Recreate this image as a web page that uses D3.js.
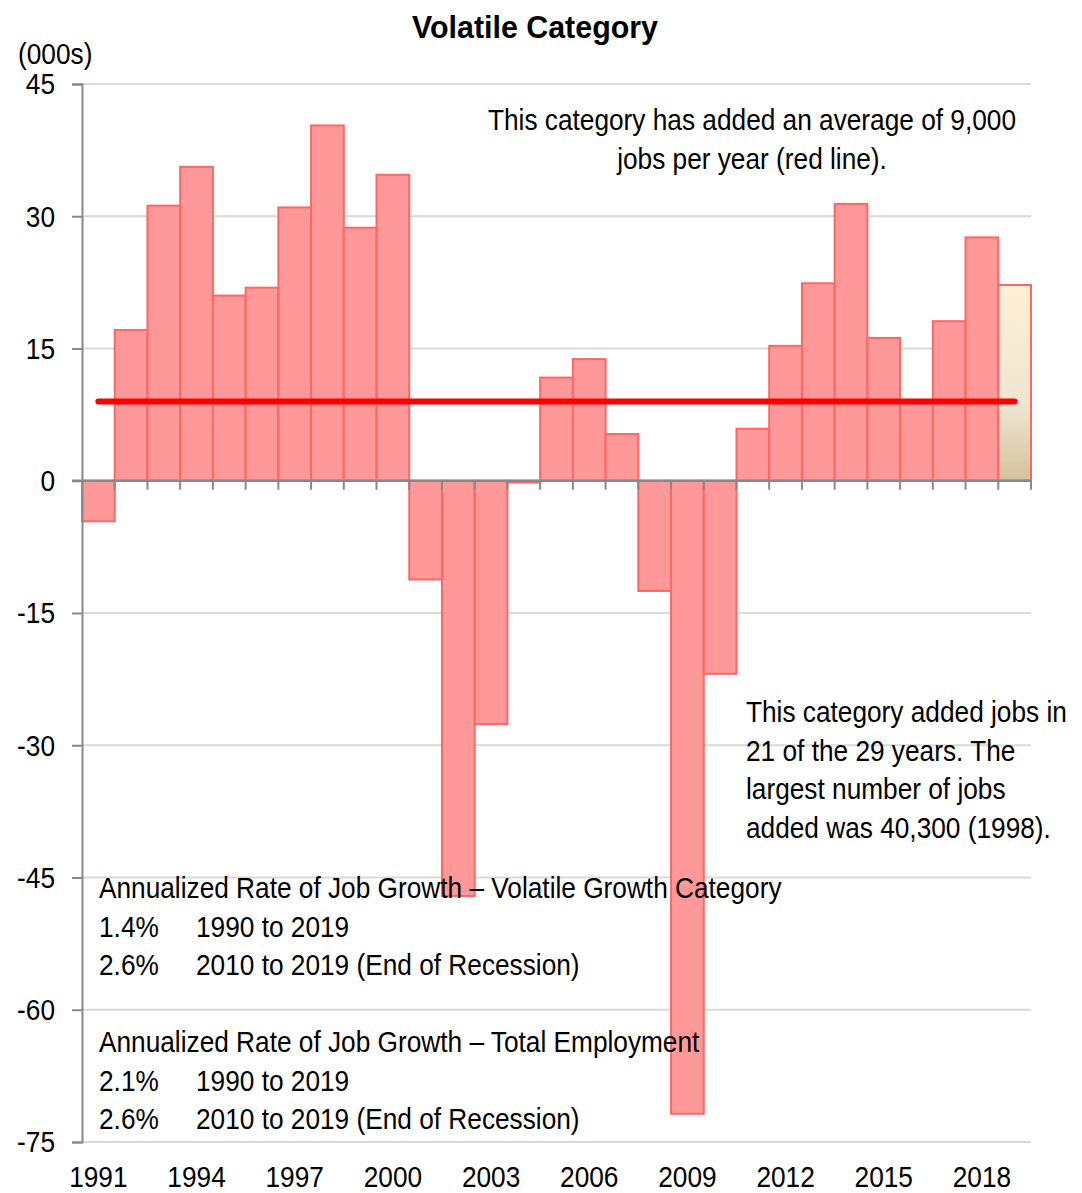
<!DOCTYPE html>
<html>
<head>
<meta charset="utf-8">
<script src="https://cdn.jsdelivr.net/npm/d3@7"></script>
<style>
  body { margin: 0; background: #fff; }
  svg { display: block; }
  text { font-family: 'Liberation Sans', Arial, sans-serif; fill: #000; }
</style>
</head>
<body>
<svg id="chart"></svg>
<script>
// job change by year, thousands
const years = d3.range(1991, 2020);
const jobChange = [
    -4.6, 17.1, 31.2, 35.6, 21.0, 21.9, 31.0, 40.3, 28.7, 34.7,
    -11.2, -47.1, -27.6, -0.2, 11.7, 13.8, 5.3, -12.5, -71.8, -21.9,
    5.9, 15.3, 22.4, 31.4, 16.2, 9.0, 18.1, 27.6, 22.2
];
const averageLine = 9.0;
const yTicks = [45, 30, 15, 0, -15, -30, -45, -60, -75];
const xLabels = [1991, 1994, 1997, 2000, 2003, 2006, 2009, 2012, 2015, 2018];

const topNote = ['This category has added an average of 9,000', 'jobs per year (red line).'];
const sideNote = ['This category added jobs in', '21 of the 29 years. The', 'largest number of jobs', 'added was 40,300 (1998).'];
const rateBlocks = [
    { title: 'Annualized Rate of Job Growth \u2013 Volatile Growth Category',
      rows: [['1.4%', '1990 to 2019'], ['2.6%', '2010 to 2019 (End of Recession)']] },
    { title: 'Annualized Rate of Job Growth \u2013 Total Employment',
      rows: [['2.1%', '1990 to 2019'], ['2.6%', '2010 to 2019 (End of Recession)']] }
];

const width = 1082, height = 1193;
const margin = { left: 82, right: 51, top: 84, bottom: 51 };
const narrow = 0.875;   // stand-in for the condensed face
const fontSize = 30;

const svg = d3.select('#chart')
    .attr('width', width)
    .attr('height', height);

// regular text squeezed horizontally
function label(parent, tx, ty, str, anchor) {
    return parent.append('text')
        .attr('transform', `translate(${tx},${ty}) scale(${narrow},1)`)
        .attr('text-anchor', anchor || 'start')
        .attr('font-size', fontSize)
        .text(str);
}

const x = d3.scaleBand()
    .domain(years)
    .range([margin.left, width - margin.right])
    .paddingInner(0)
    .paddingOuter(0);

const y = d3.scaleLinear()
    .domain([-75, 45])
    .range([height - margin.bottom, margin.top]);

const defs = svg.append('defs');
const grad = defs.append('linearGradient')
    .attr('id', 'lastBar')
    .attr('x1', 0).attr('y1', 0).attr('x2', 0).attr('y2', 1);
grad.append('stop').attr('offset', '0%').attr('stop-color', '#fdefd4');
grad.append('stop').attr('offset', '60%').attr('stop-color', '#efe6d2');
grad.append('stop').attr('offset', '100%').attr('stop-color', '#d3c29b');

// gridlines
svg.append('g')
    .selectAll('line')
    .data(yTicks.filter(d => d !== 0))
    .enter()
    .append('line')
    .attr('x1', margin.left)
    .attr('x2', width - margin.right)
    .attr('y1', d => y(d))
    .attr('y2', d => y(d))
    .attr('stroke', '#d9d9d9')
    .attr('stroke-width', 2);

// bars
svg.append('g')
    .selectAll('rect')
    .data(years.map((yr, i) => ({ year: yr, value: jobChange[i] })))
    .enter()
    .append('rect')
    .attr('x', d => x(d.year))
    .attr('width', x.bandwidth())
    .attr('y', d => y(Math.max(0, d.value)))
    .attr('height', d => Math.abs(y(d.value) - y(0)))
    .attr('fill', d => d.year === 2019 ? 'url(#lastBar)' : '#ff9999')
    .attr('stroke', '#ff6666')
    .attr('stroke-width', 2);

// y axis
const yAxis = svg.append('g')
    .attr('transform', `translate(${margin.left},0)`)
    .call(d3.axisLeft(y).tickValues(yTicks).tickSize(10).tickPadding(17).tickFormat(d => String(d)));
yAxis.select('.domain').attr('stroke', '#888').attr('stroke-width', 2);
yAxis.selectAll('.tick line').attr('stroke', '#888').attr('stroke-width', 2);
yAxis.selectAll('.tick text')
    .attr('font-size', fontSize)
    .attr('font-family', null)
    .attr('fill', '#000')
    .attr('x', -27 / narrow)
    .attr('dy', '0.33em')
    .attr('transform', `scale(${narrow},1)`);

// zero line with ticks at bar boundaries
const zeroAxis = svg.append('g');
zeroAxis.append('line')
    .attr('x1', margin.left - 10)
    .attr('x2', width - margin.right)
    .attr('y1', y(0))
    .attr('y2', y(0))
    .attr('stroke', '#888')
    .attr('stroke-width', 2.5);
zeroAxis.selectAll('.btick')
    .data(years.slice(1).map(d => x(d)).concat([width - margin.right]))
    .enter()
    .append('line')
    .attr('x1', d => d)
    .attr('x2', d => d)
    .attr('y1', y(0))
    .attr('y2', y(0) + 9)
    .attr('stroke', '#888')
    .attr('stroke-width', 2);

// x labels
const xg = svg.append('g');
xLabels.forEach(d => label(xg, x(d) + x.bandwidth() / 2, 1187, d, 'middle'));

// average line
svg.append('line')
    .attr('x1', x(years[0]) + x.bandwidth() / 2)
    .attr('x2', x(years[years.length - 1]) + x.bandwidth() / 2)
    .attr('y1', y(averageLine))
    .attr('y2', y(averageLine))
    .attr('stroke', '#ff0000')
    .attr('stroke-width', 6)
    .attr('stroke-linecap', 'round');

// title and unit
svg.append('text')
    .attr('transform', 'translate(535,38) scale(0.95,1)')
    .attr('text-anchor', 'middle')
    .attr('font-size', 32)
    .attr('font-weight', 'bold')
    .text('Volatile Category');

label(svg, 18, 64, '(000s)');

// notes
const tn = svg.append('g');
topNote.forEach((t, i) => label(tn, 752, 130 + i * 38.5, t, 'middle'));

const sn = svg.append('g');
sideNote.forEach((t, i) => label(sn, 746, 722 + i * 38.5, t));

rateBlocks.forEach((block, b) => {
    const g = svg.append('g');
    const top = 898 + b * 154;
    label(g, 99, top, block.title);
    block.rows.forEach((row, r) => {
        label(g, 99, top + (r + 1) * 38.5, row[0]);
        label(g, 196, top + (r + 1) * 38.5, row[1]);
    });
});
</script>
</body>
</html>
